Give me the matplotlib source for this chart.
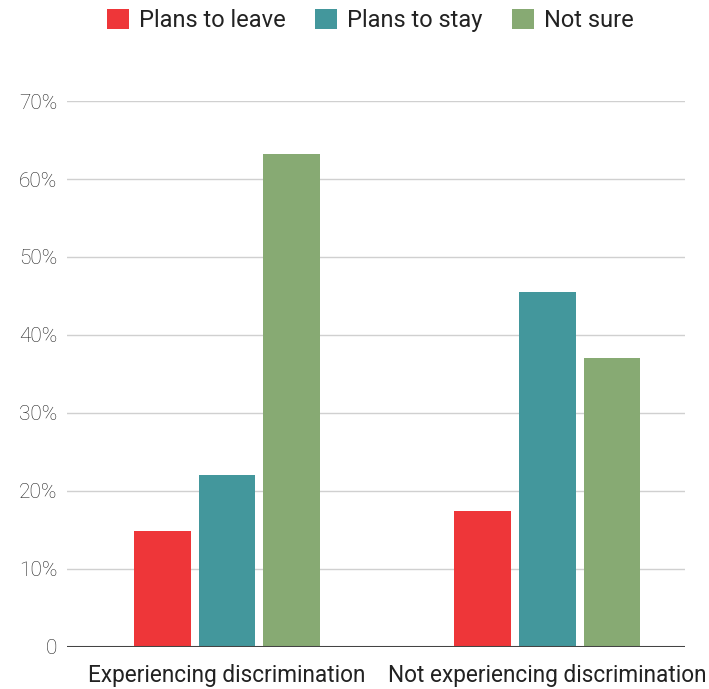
import matplotlib.pyplot as plt
import matplotlib.ticker as ticker
from matplotlib.patches import Patch
import numpy as np

plt.rcParams['font.family'] = ['Roboto', 'DejaVu Sans']

groups = ['Experiencing discrimination', 'Not experiencing discrimination']
series = ['Plans to leave', 'Plans to stay', 'Not sure']
leave = [14.9, 17.4]
stay = [22.0, 45.5]
not_sure = [63.2, 37.0]
colors = ['#ee3639', '#43979c', '#87aa73']

fig = plt.figure(figsize=(7.09, 6.89), dpi=100)
ax = fig.add_axes([0.0945, 0.061, 0.8716, 0.7924])

x = np.arange(len(groups))
width = 0.178
step = 0.203
for i, (vals, c) in enumerate(zip([leave, stay, not_sure], colors)):
    ax.bar(x + (i - 1) * step, vals, width, color=c, zorder=3)

ax.set_xlim(-0.5, 1.431)
ax.set_ylim(0, 70)
ax.set_yticks(np.arange(0, 71, 10))
ax.yaxis.set_major_formatter(ticker.FuncFormatter(lambda v, pos: '0' if v == 0 else f'{v:.0f}%'))
ax.grid(axis='y', color='#d0d0d0', linewidth=1, zorder=0)
ax.axhline(0, color='#444444', linewidth=2.2, zorder=4)

ax.set_xticks(x)
ax.set_xticklabels(groups)
for s in ax.spines.values():
    s.set_visible(False)
ax.tick_params(axis='both', length=0, colors='#222222')
ax.tick_params(axis='y', pad=7, labelsize=15)
ax.tick_params(axis='x', pad=12, labelsize=16.3)
for lbl in ax.get_yticklabels():
    lbl.set_fontweight('light')

handles = [Patch(facecolor=c, label=s) for s, c in zip(series, colors)]
fig.legend(handles=handles, loc='upper center', bbox_to_anchor=(0.522, 1.018), ncol=3,
           frameon=False, fontsize=17, handlelength=0.95, handleheight=0.95,
           handletextpad=0.4, columnspacing=1.25, labelcolor='#222222')

plt.savefig('out.png', dpi=100)
